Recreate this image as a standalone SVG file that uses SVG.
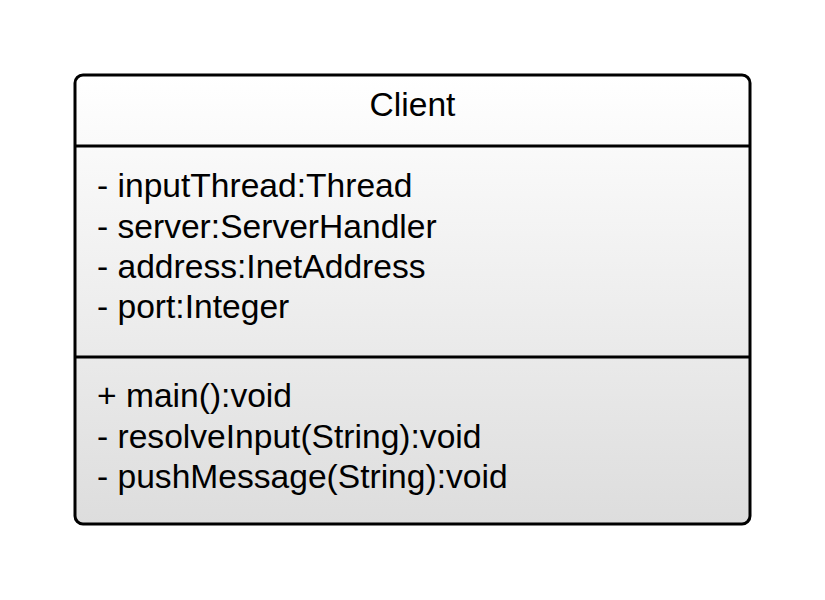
<svg xmlns="http://www.w3.org/2000/svg" width="825" height="600" viewBox="0 0 825 600">
<defs>
<linearGradient id="g" x1="0" y1="0" x2="0" y2="1">
<stop offset="0" stop-color="#ffffff"/>
<stop offset="1" stop-color="#dddddd"/>
</linearGradient>
<style>
.t{font-family:"Liberation Sans",Arial,sans-serif;font-size:33.6px;fill:#000}
.l{stroke:#000;stroke-width:3;fill:none}
</style>
</defs>
<rect width="825" height="600" fill="#fff"/>
<g id="client">
<rect x="75" y="75" width="675" height="449" rx="8" ry="8" fill="url(#g)" stroke="#000" stroke-width="3"/>
<line class="l" x1="75" y1="146" x2="750" y2="146"/>
<line class="l" x1="75" y1="357" x2="750" y2="357"/>
<text class="t" x="412.5" y="115.5" text-anchor="middle">Client</text>
<text class="t" x="97" y="197">- inputThread:Thread</text>
<text class="t" x="97" y="237.5">- server:ServerHandler</text>
<text class="t" x="97" y="278">- address:InetAddress</text>
<text class="t" x="97" y="318">- port:Integer</text>
<text class="t" x="97" y="407">+ main():void</text>
<text class="t" x="97" y="447.5">- resolveInput(String):void</text>
<text class="t" x="97" y="488">- pushMessage(String):void</text>
</g>
<g id="connectors"></g>
</svg>
